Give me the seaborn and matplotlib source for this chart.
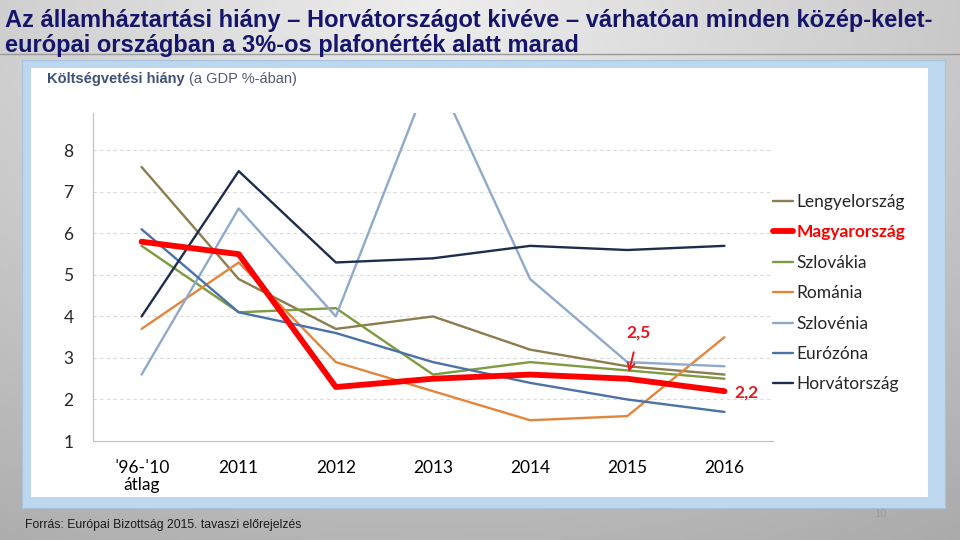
"""Budget deficit chart, CEE countries (% of GDP)."""

import numpy as np
import pandas as pd
import matplotlib
matplotlib.use('Agg')
import matplotlib.pyplot as plt
from matplotlib.patches import Rectangle
from matplotlib.text import Annotation
from matplotlib.ticker import FixedLocator
import seaborn as sns

# Data
periods = ['ˈ96-ˈ10\nátlag', '2011', '2012', '2013', '2014', '2015', '2016']
lengyelorszag = [7.6, 4.9, 3.7, 4.0, 3.2, 2.8, 2.6]
magyarorszag = [5.8, 5.5, 2.3, 2.5, 2.6, 2.5, 2.2]
szlovakia = [5.7, 4.1, 4.2, 2.6, 2.9, 2.7, 2.5]
romania = [3.7, 5.3, 2.9, 2.2, 1.5, 1.6, 3.5]
szlovenia = [2.6, 6.6, 4.0, 10.0, 4.9, 2.9, 2.8]
eurozona = [6.1, 4.1, 3.6, 2.9, 2.4, 2.0, 1.7]
horvatorszag = [4.0, 7.5, 5.3, 5.4, 5.7, 5.6, 5.7]

series_names = ['Lengyelország', 'Magyarország', 'Szlovákia', 'Románia',
                'Szlovénia', 'Eurózóna', 'Horvátország']
series_values = [lengyelorszag, magyarorszag, szlovakia, romania,
                 szlovenia, eurozona, horvatorszag]
colors = {
    'Lengyelország': '#8C7C4E',
    'Magyarország': '#FF0000',
    'Szlovákia': '#7D9B40',
    'Románia': '#E3863C',
    'Szlovénia': '#8FA9CA',
    'Eurózóna': '#4A72A9',
    'Horvátország': '#1D2D4E',
}

title = ('Az államháztartási hiány – Horvátországot kivéve – várhatóan minden közép-kelet-\n'
         'európai országban a 3%-os plafonérték alatt marad')
source = 'Forrás: Európai Bizottság 2015. tavaszi előrejelzés'

sns.set_style('white')
plt.rcParams['font.family'] = ['Lato', 'DejaVu Sans']
narrow = ['Liberation Sans Narrow', 'Liberation Sans', 'DejaVu Sans']
arial = ['Liberation Sans', 'DejaVu Sans']

W, H = 960, 540
fig = plt.figure(figsize=(W / 100, H / 100), dpi=100)

# slide background gradient
bg = fig.add_axes([0, 0, 1, 1], zorder=-10)
yy, xx = np.mgrid[0:1:200j, 0:1:360j]
r = np.sqrt(((xx - 0.45) * 1.2) ** 2 + (yy * 1.0) ** 2)
shade = 0.93 - 0.22 * np.clip(r, 0, 1.2)
bg.imshow(shade, cmap='gray', vmin=0, vmax=1, aspect='auto', extent=[0, 1, 1, 0])
bg.set_xlim(0, 1)
bg.set_ylim(1, 0)
bg.axis('off')


def px_rect(x0, y0, x1, y1, **kw):
    fig.patches.append(Rectangle((x0 / W, 1 - y1 / H), (x1 - x0) / W, (y1 - y0) / H,
                                 transform=fig.transFigure, **kw))


fig.lines.append(plt.Line2D([0, 1], [1 - 54 / H, 1 - 54 / H], transform=fig.transFigure,
                            color='#9A9A9A', lw=1))
px_rect(22, 60, 945, 508, facecolor='#BDD7EE', edgecolor='#A9C3DA', lw=0.8, zorder=-5)
px_rect(31, 68, 928, 497, facecolor='white', edgecolor='none', zorder=-4)

fig.text(5 / W, 1 - 9 / H, title, ha='left', va='top', fontsize=17, fontweight='bold',
         color='#15156B', family=narrow, linespacing=1.13)
sub = fig.text(47 / W, 1 - 79 / H, 'Költségvetési hiány', ha='left', va='center',
               fontsize=10.5, color='#3E5277', family=arial, fontweight='bold')
fig.add_artist(Annotation('(a GDP %-ában)', xy=(1, 0.5), xycoords=sub, xytext=(3, 0),
                          textcoords='offset points', ha='left', va='center',
                          fontsize=10.5, color='#4F5B6E', family=arial))
fig.text(25 / W, 1 - 525 / H, source, ha='left', va='center', fontsize=8.8,
         color='#1A1A1A', family=narrow)
fig.text(880 / W, 1 - 514 / H, '10', ha='center', va='center', fontsize=8,
         color='#9C9C9C', family=arial)

# main chart
ax = fig.add_axes([93 / W, 1 - 441 / H, 680 / W, 328 / H])
ax.set_facecolor('none')
x = np.arange(len(periods))
for name, vals in zip(series_names, series_values):
    is_hu = name == 'Magyarország'
    sns.lineplot(x=x, y=vals, ax=ax, color=colors[name], label=name,
                 linewidth=4.2 if is_hu else 1.7, zorder=5 if is_hu else 3)

ax.set_xlim(-0.5, len(periods) - 0.5)
ax.set_ylim(1, 8.9)
ax.set_yticks(range(1, 9))
ax.set_xticks(x)
ax.set_xticklabels(periods, linespacing=1.05)
ax.xaxis.set_minor_locator(FixedLocator(np.arange(-0.5, len(periods), 1.0)))
ax.tick_params(axis='x', which='major', length=0, pad=14, labelsize=12.5, colors='#000000')
ax.tick_params(axis='x', which='minor', length=5, width=0.8, color='#BFBFBF', direction='out')
ax.tick_params(axis='y', length=0, pad=14, labelsize=12.5)
for y in range(2, 9):
    ax.axhline(y, color='#D9D9D9', lw=0.8, ls=(0, (3, 3)), zorder=1)
for side in ['top', 'right']:
    ax.spines[side].set_visible(False)
for side in ['left', 'bottom']:
    ax.spines[side].set_color('#BFBFBF')
    ax.spines[side].set_linewidth(0.8)
ax.set_xlabel('')
ax.set_ylabel('')

# callouts for Hungary
ax.annotate('2,5', xy=(5, magyarorszag[5]), xytext=(8, 33), textcoords='offset points',
            ha='center', va='center', color='#E31A1C', fontsize=12.5, fontweight='bold',
            arrowprops=dict(arrowstyle='->', color='#E31A1C', lw=1.4,
                            shrinkA=6, shrinkB=5))
ax.annotate('2,2', xy=(6, magyarorszag[6]), xytext=(7, -1), textcoords='offset points',
            ha='left', va='center', color='#E31A1C', fontsize=12.5, fontweight='bold')

handles, labels = ax.get_legend_handles_labels()
leg = ax.legend(handles, labels, loc='upper left', bbox_to_anchor=(1.0, 1 - 81 / 328),
                frameon=False, fontsize=12.5, handlelength=1.15, handletextpad=0.2,
                labelspacing=0.83, borderpad=0, borderaxespad=0)
for txt in leg.get_texts():
    if txt.get_text() == 'Magyarország':
        txt.set_color('#FF0000')
        txt.set_fontweight('bold')

fig.savefig('out.png', dpi=100)
